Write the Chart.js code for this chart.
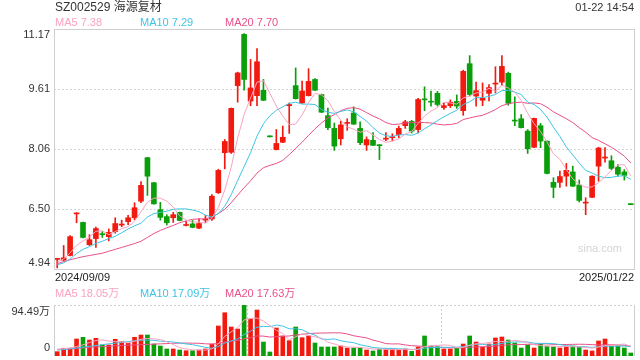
<!DOCTYPE html>
<html>
<head>
<meta charset="utf-8">
<script src="https://cdn.jsdelivr.net/npm/chart.js@4.4.1/dist/chart.umd.min.js"></script>
<style>
html,body{margin:0;padding:0;background:#fff;width:640px;height:360px;overflow:hidden}
#wrap{position:relative;width:640px;height:360px}
canvas{position:absolute;left:0}
</style>
</head>
<body>
<div id="wrap">
<canvas id="price" width="640" height="285" style="top:0"></canvas>
<canvas id="vol" width="640" height="75" style="top:285px"></canvas>
</div>
<script>
// ---------------- data ----------------
const stockTitle = 'SZ002529 海源复材';
const stampText = '01-22 14:54';
const dates = [
'2024/09/09','2024/09/10','2024/09/11','2024/09/12','2024/09/13','2024/09/18','2024/09/19','2024/09/20','2024/09/23','2024/09/24',
'2024/09/25','2024/09/26','2024/09/27','2024/09/30','2024/10/08','2024/10/09','2024/10/10','2024/10/11','2024/10/14','2024/10/15',
'2024/10/16','2024/10/17','2024/10/18','2024/10/21','2024/10/22','2024/10/23','2024/10/24','2024/10/25','2024/10/28','2024/10/29',
'2024/10/30','2024/10/31','2024/11/01','2024/11/04','2024/11/05','2024/11/06','2024/11/07','2024/11/08','2024/11/11','2024/11/12',
'2024/11/13','2024/11/14','2024/11/15','2024/11/18','2024/11/19','2024/11/20','2024/11/21','2024/11/22','2024/11/25','2024/11/26',
'2024/11/27','2024/11/28','2024/11/29','2024/12/02','2024/12/03','2024/12/04','2024/12/05','2024/12/06','2024/12/09','2024/12/10',
'2024/12/11','2024/12/12','2024/12/13','2024/12/16','2024/12/17','2024/12/18','2024/12/19','2024/12/20','2024/12/23','2024/12/24',
'2024/12/25','2024/12/26','2024/12/27','2024/12/30','2024/12/31','2025/01/02','2025/01/03','2025/01/06','2025/01/07','2025/01/08',
'2025/01/09','2025/01/10','2025/01/13','2025/01/14','2025/01/15','2025/01/16','2025/01/17','2025/01/20','2025/01/21','2025/01/22'
];
const openP = [
5.19,5.17,5.29,6.37,6.15,5.57,5.73,5.85,5.78,5.91,
6.08,6.17,6.27,6.70,7.83,7.18,6.48,6.30,6.27,6.41,
6.07,6.11,6.00,6.21,6.24,6.92,7.96,7.97,9.70,11.03,
9.30,9.44,9.58,8.38,8.04,8.23,9.18,9.70,9.25,9.44,
9.86,9.47,8.92,8.59,8.32,8.72,8.99,8.59,8.16,8.28,
8.16,8.31,8.35,8.43,8.66,8.77,8.56,9.35,9.29,9.50,
9.13,9.18,9.29,9.05,10.27,9.43,9.32,9.50,9.74,9.79,
10.02,8.80,8.84,8.52,8.10,8.66,8.26,7.19,7.19,7.35,
7.46,7.12,6.65,6.80,7.61,7.82,7.75,7.58,7.46,6.62
];
const highP = [
5.22,5.55,5.81,6.40,6.16,5.83,6.03,5.91,5.98,6.27,
6.21,6.33,6.66,7.21,7.84,7.19,6.67,6.35,6.41,6.42,
6.18,6.20,6.24,6.33,6.87,7.53,8.30,9.12,10.05,11.05,
10.38,10.66,9.86,8.38,8.56,8.65,9.25,10.16,9.82,10.14,
9.88,9.48,9.12,8.73,8.78,8.84,9.15,8.76,8.37,8.48,
8.17,8.48,8.45,8.65,8.80,8.80,9.37,9.67,9.56,9.55,
9.25,9.33,9.46,10.10,10.48,9.79,9.77,9.73,10.19,10.48,
10.05,9.41,8.95,8.56,8.86,8.72,8.27,7.31,7.48,7.68,
7.61,7.25,6.79,7.36,8.10,8.09,7.88,7.65,7.52,6.62
];
const lowP = [
4.97,5.15,5.28,6.14,5.75,5.55,5.50,5.76,5.67,5.87,
6.04,6.09,6.22,6.66,6.85,6.62,6.21,6.08,6.15,6.19,
6.06,6.01,5.99,6.15,6.20,6.90,7.54,7.94,9.27,9.58,
9.18,9.18,9.31,8.37,8.03,8.22,8.46,9.35,9.24,9.43,
9.57,9.00,8.56,8.02,8.16,8.54,8.69,8.17,8.02,8.14,
7.78,8.27,8.27,8.35,8.59,8.47,8.47,9.05,9.17,9.17,
9.08,9.13,9.11,8.93,9.43,9.17,9.18,9.30,9.51,9.70,
9.19,8.66,8.60,7.94,8.09,8.09,7.41,6.79,7.06,7.09,
7.08,6.68,6.35,6.79,7.22,7.71,7.52,7.35,7.25,6.61
];
const closeP = [
5.21,5.23,5.78,6.39,5.76,5.70,5.99,5.83,5.89,6.12,
6.10,6.27,6.53,7.11,7.35,6.63,6.28,6.14,6.35,6.20,
6.09,6.02,6.12,6.23,6.83,7.50,8.25,9.11,10.03,9.86,
9.64,10.32,9.32,8.37,8.20,8.36,9.21,9.36,9.56,9.81,
9.58,9.01,8.61,8.13,8.68,8.74,8.70,8.22,8.30,8.15,
8.14,8.33,8.37,8.59,8.76,8.52,9.34,9.33,9.27,9.21,
9.18,9.27,9.17,10.07,9.47,9.57,9.37,9.65,9.76,10.20,
9.24,8.78,8.61,8.06,8.85,8.26,7.42,7.06,7.34,7.50,
7.09,6.72,6.67,7.35,8.08,7.84,7.55,7.40,7.37,6.61
];
const ma5 = [
5.12,5.20,5.36,5.55,5.67,5.77,5.92,5.93,5.83,5.91,
5.99,6.04,6.18,6.43,6.67,6.78,6.78,6.70,6.55,6.32,
6.21,6.16,6.16,6.13,6.26,6.54,6.99,7.58,8.34,8.95,
9.38,9.79,9.83,9.50,9.17,8.91,8.69,8.70,8.94,9.26,
9.50,9.46,9.31,9.03,8.80,8.63,8.57,8.49,8.53,8.42,
8.30,8.23,8.26,8.32,8.44,8.51,8.72,8.91,9.04,9.13,
9.27,9.25,9.22,9.38,9.43,9.51,9.53,9.63,9.56,9.71,
9.64,9.53,9.32,8.98,8.71,8.51,8.24,7.93,7.79,7.52,
7.28,7.14,7.06,7.07,7.18,7.33,7.50,7.64,7.65,7.35
];
const ma10 = [
5.05,5.10,5.20,5.34,5.45,5.52,5.60,5.66,5.73,5.79,
5.88,5.98,6.06,6.13,6.29,6.38,6.41,6.44,6.49,6.50,
6.50,6.47,6.43,6.34,6.29,6.38,6.57,6.87,7.24,7.60,
7.96,8.39,8.71,8.92,9.06,9.15,9.24,9.27,9.22,9.22,
9.21,9.08,9.01,8.98,9.03,9.07,9.02,8.90,8.78,8.61,
8.47,8.40,8.38,8.42,8.43,8.41,8.47,8.58,8.68,8.79,
8.89,8.98,9.06,9.21,9.28,9.39,9.39,9.42,9.47,9.57,
9.58,9.53,9.47,9.27,9.21,9.08,8.88,8.62,8.38,8.11,
7.90,7.69,7.50,7.43,7.35,7.31,7.32,7.35,7.36,7.27
];
const ma20 = [
5.08,5.13,5.18,5.22,5.26,5.29,5.32,5.35,5.40,5.45,
5.50,5.55,5.60,5.66,5.76,5.86,5.94,6.01,6.07,6.14,
6.19,6.23,6.24,6.24,6.29,6.38,6.49,6.66,6.86,7.05,
7.23,7.43,7.57,7.63,7.68,7.76,7.91,8.07,8.23,8.41,
8.58,8.73,8.86,8.95,9.05,9.11,9.13,9.09,9.00,8.91,
8.84,8.74,8.69,8.70,8.73,8.74,8.75,8.74,8.73,8.70,
8.68,8.69,8.72,8.82,8.86,8.90,8.93,9.00,9.08,9.18,
9.23,9.26,9.27,9.24,9.25,9.23,9.14,9.02,8.93,8.84,
8.74,8.61,8.49,8.35,8.28,8.19,8.10,7.99,7.87,7.69
];
// volume in 万
const volume = [
8.0,14.3,14.3,31.5,34.7,29.6,32.8,20.4,20.4,30.9,
26.5,23.5,34.7,38.9,38.9,22.2,18.5,13.0,13.0,11.1,
9.8,9.8,11.1,13.0,22.2,55.6,80.2,53.7,50.0,94.49,
68.6,85.2,25.9,7.4,51.9,37.1,28.4,53.7,33.9,37.1,
24.1,16.7,16.7,16.7,18.5,14.8,14.8,14.8,11.1,9.3,
13.0,13.0,13.0,11.1,13.0,8.7,16.7,37.1,18.5,17.2,
13.0,13.0,14.8,22.2,37.1,25.9,16.7,22.2,33.4,35.2,
29.6,24.1,14.8,20.4,14.8,22.2,18.5,16.7,14.8,17.2,
18.5,16.7,11.1,9.3,27.8,31.5,18.5,18.5,14.8,5.6
];
const vma5 = [
12.5,13.5,15.0,17.5,20.6,24.9,28.6,29.8,27.6,26.8,
26.2,24.3,27.2,30.9,32.5,31.6,30.6,26.3,21.1,15.6,
13.1,11.3,11.0,11.0,13.2,22.3,36.4,44.9,52.3,66.8,
69.4,70.4,64.8,56.3,47.8,41.5,30.1,35.7,41.0,38.0,
35.4,33.1,25.7,22.3,18.5,16.7,16.3,15.9,14.8,13.0,
12.6,12.2,11.9,11.9,12.6,11.8,12.5,17.3,18.8,19.6,
20.5,19.8,15.3,16.0,20.0,22.6,23.3,24.8,27.1,26.7,
27.4,28.9,27.4,24.8,20.7,19.3,18.1,18.5,17.4,17.9,
17.1,16.8,15.7,14.6,16.7,19.3,19.6,21.1,22.2,17.8
];
const vma10 = [
11.0,12.0,13.5,15.0,16.5,18.0,19.5,21.0,22.5,23.7,
25.5,26.5,28.5,29.2,29.7,28.9,27.5,26.8,26.0,24.0,
22.4,21.0,18.6,16.0,14.4,17.7,23.9,28.0,31.7,40.0,
45.9,53.4,54.9,54.3,57.3,55.5,50.3,50.3,48.7,42.9,
38.5,31.6,30.7,31.6,28.3,26.1,24.7,20.8,18.5,15.8,
14.6,14.3,13.9,13.3,12.8,12.2,12.4,14.6,15.3,16.1,
16.1,16.1,16.3,17.4,19.8,21.6,21.6,20.1,21.6,23.4,
25.0,26.1,26.1,25.9,23.7,23.3,23.5,23.0,21.1,19.3,
18.2,17.5,17.1,16.0,17.3,18.2,18.2,18.4,18.4,17.2
];
const vma20 = [
12.0,12.5,13.0,14.0,15.0,16.0,17.0,17.5,18.0,19.0,
19.5,20.0,20.5,21.0,21.5,22.0,22.5,23.0,23.5,23.9,
24.0,23.7,23.6,22.6,22.0,23.3,25.7,27.4,28.8,32.0,
34.1,37.2,36.8,35.2,35.8,36.6,37.1,39.1,40.2,41.5,
42.2,42.5,42.8,43.0,42.8,40.8,37.5,35.5,33.6,29.3,
26.6,22.9,22.3,22.5,20.5,19.1,18.5,17.7,16.9,15.9,
15.4,15.2,15.1,15.4,16.3,16.9,17.0,17.3,18.4,19.7,
20.6,21.1,21.2,21.7,21.8,22.4,22.5,21.5,21.3,21.3,
21.6,21.8,21.6,21.0,20.5,20.8,20.9,20.7,19.8,18.3
];
const priceTicks = [11.17, 9.61, 8.06, 6.50, 4.94];
const volTicks = [94.49, 0];
const priceLegend = ['MA5 7.38', 'MA10 7.29', 'MA20 7.70'];
const volLegend = ['MA5 18.05万', 'MA10 17.09万', 'MA20 17.63万'];
const volDividers = [30, 60];

// ---------------- styles ----------------
const FONT = '"Liberation Sans", Arial, "Noto Sans CJK SC", sans-serif';
const RED = '#f2190f', GREEN = '#0a9f0a';
const C5 = '#f9a3c0', C10 = '#3ec4e6', C20 = '#e9508a';
const upDown = closeP.map((c, i) => c >= openP[i]);
const candleColors = upDown.map(u => u ? RED : GREEN);

function txt(ctx, s, x, y, color, size, align) {
  ctx.font = size + 'px ' + FONT;
  ctx.fillStyle = color;
  ctx.textAlign = align || 'left';
  ctx.textBaseline = 'middle';
  ctx.fillText(s, x, y);
}
function hline(ctx, x1, x2, y) { ctx.beginPath(); ctx.moveTo(x1, y); ctx.lineTo(x2, y); ctx.stroke(); }
function vline(ctx, x, y1, y2) { ctx.beginPath(); ctx.moveTo(x, y1); ctx.lineTo(x, y2); ctx.stroke(); }

const pricePlugin = {
  id: 'pricePlugin',
  beforeDatasetsDraw(chart) {
    const { ctx, chartArea: a, scales: { y } } = chart;
    ctx.save();
    txt(ctx, 'sina.com', a.right - 12, a.bottom - 20, '#d4d4d4', 11, 'right');
    ctx.strokeStyle = '#d6d6d6'; ctx.lineWidth = 1; ctx.setLineDash([2, 2]);
    priceTicks.slice(1, -1).forEach(v => {
      const py = Math.round(y.getPixelForValue(v)) + 0.5;
      hline(ctx, a.left, a.right, py);
    });
    ctx.restore();
  },
  afterDraw(chart) {
    const { ctx, chartArea: a, scales: { y } } = chart;
    ctx.save();
    ctx.strokeStyle = '#cfcfcf'; ctx.lineWidth = 1; ctx.setLineDash([]);
    ctx.strokeRect(a.left + 0.5, a.top + 0.5, a.right - a.left, a.bottom - a.top);
    txt(ctx, stockTitle, a.left + 1, 8, '#333', 12, 'left');
    txt(ctx, stampText, a.right, 8, '#333', 11, 'right');
    const lc = [C5, C10, C20];
    const lx = [a.left + 1, a.left + 86, a.left + 171];
    priceLegend.forEach((s, i) => txt(ctx, s, lx[i], 23, lc[i], 11, 'left'));
    priceTicks.forEach((v, i) => {
      let py = y.getPixelForValue(v);
      if (i === 0) py += 6;
      else if (i === priceTicks.length - 1) py -= 6;
      txt(ctx, v.toFixed(2), a.left - 4, py, '#333', 11, 'right');
    });
    txt(ctx, dates[0], a.left + 1, a.bottom + 9, '#222', 11, 'left');
    txt(ctx, dates[dates.length - 1], a.right, a.bottom + 9, '#222', 11, 'right');
    ctx.restore();
  }
};

const volPlugin = {
  id: 'volPlugin',
  beforeDatasetsDraw(chart) {
    const { ctx, chartArea: a, scales: { x } } = chart;
    ctx.save();
    ctx.strokeStyle = '#d0d0d0'; ctx.lineWidth = 1; ctx.setLineDash([2, 2]);
    hline(ctx, a.left, a.right, a.top + 0.5);
    hline(ctx, a.left, a.right, a.bottom - 0.5);
    volDividers.forEach(k => {
      const px = Math.round((x.getPixelForValue(k - 1) + x.getPixelForValue(k)) / 2) + 0.5;
      vline(ctx, px, a.top, a.bottom);
    });
    ctx.setLineDash([]);
    ctx.strokeStyle = '#cfcfcf';
    vline(ctx, a.left + 0.5, a.top, a.bottom);
    vline(ctx, a.right + 0.5, a.top, a.bottom);
    ctx.restore();
  },
  afterDraw(chart) {
    const { ctx, chartArea: a } = chart;
    ctx.save();
    const lc = [C5, C10, C20];
    const lx = [a.left + 1, a.left + 86, a.left + 171];
    volLegend.forEach((s, i) => txt(ctx, s, lx[i], 9, lc[i], 11, 'left'));
    txt(ctx, volTicks[0].toFixed(2) + '万', a.left - 4, a.top + 7, '#333', 11, 'right');
    txt(ctx, String(volTicks[1]), a.left - 4, a.bottom - 8, '#333', 11, 'right');
    ctx.restore();
  }
};

function lineDs(label, data, color) {
  return { type: 'line', label, data, borderColor: color, borderWidth: 1, pointRadius: 0, tension: 0, fill: false, order: 0 };
}
const commonOpts = (yMin, yMax, pad) => ({
  responsive: false, animation: false, devicePixelRatio: 1, events: [],
  layout: { padding: pad },
  plugins: { legend: { display: false }, tooltip: { enabled: false } },
  scales: {
    x: { type: 'category', display: false, offset: true, grid: { display: false } },
    y: { display: false, min: yMin, max: yMax }
  }
});

new Chart(document.getElementById('price'), {
  data: {
    labels: dates,
    datasets: [
      lineDs('MA5', ma5, C5),
      lineDs('MA10', ma10, C10),
      lineDs('MA20', ma20, C20),
      { type: 'bar', label: 'body', data: openP.map((o, i) => [o, closeP[i]]), backgroundColor: candleColors,
        barThickness: 5, minBarLength: 1, grouped: false, borderWidth: 0, order: 1 },
      { type: 'bar', label: 'wick', data: lowP.map((l, i) => [l, highP[i]]), backgroundColor: candleColors,
        barThickness: 1, minBarLength: 1, grouped: false, borderWidth: 0, order: 2 }
    ]
  },
  options: commonOpts(priceTicks[priceTicks.length - 1], priceTicks[0], { left: 54, right: 6, top: 29, bottom: 16 }),
  plugins: [pricePlugin]
});

new Chart(document.getElementById('vol'), {
  data: {
    labels: dates,
    datasets: [
      lineDs('MA5', vma5, C5),
      lineDs('MA10', vma10, C10),
      lineDs('MA20', vma20, C20),
      { type: 'bar', label: 'vol', data: volume, backgroundColor: candleColors,
        barThickness: 4, grouped: false, borderWidth: 0, order: 1 }
    ]
  },
  options: commonOpts(volTicks[1], volTicks[0], { left: 54, right: 6, top: 20, bottom: 4 }),
  plugins: [volPlugin]
});
</script>
</body>
</html>
